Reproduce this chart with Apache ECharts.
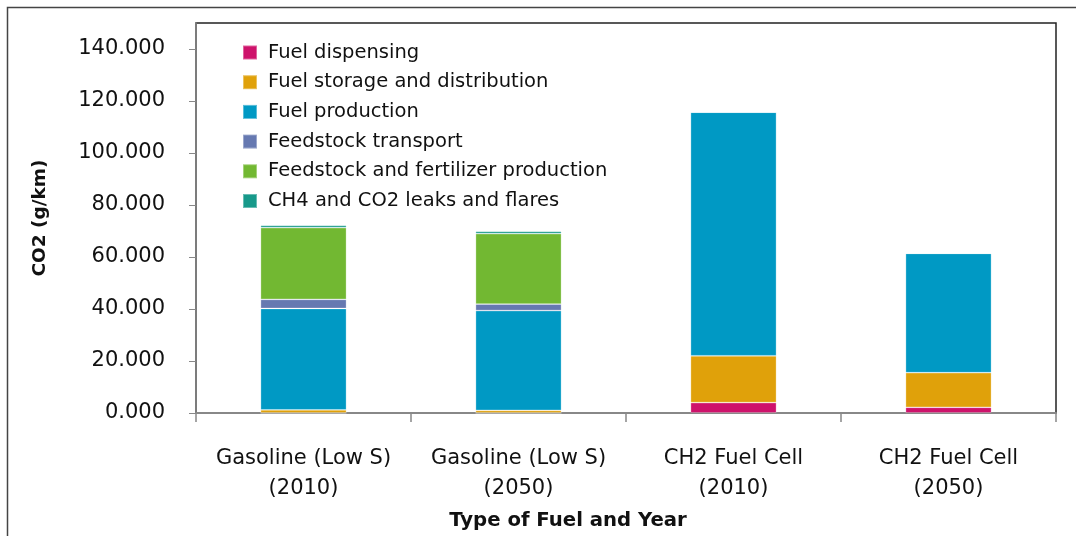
<!DOCTYPE html>
<html>
<head>
<meta charset="utf-8">
<script src="https://cdn.jsdelivr.net/npm/echarts@6/dist/echarts.min.js"></script>
<style>
  html, body { margin: 0; padding: 0; background: #fff; }
  #chart { width: 1076px; height: 536px; }
</style>
</head>
<body>
<div id="chart"></div>
<script>
// categories (x axis)
const categories = [
  'Gasoline (Low S)\n(2010)',
  'Gasoline (Low S)\n(2050)',
  'CH2 Fuel Cell\n(2010)',
  'CH2 Fuel Cell\n(2050)'
];

// stacked segments, bottom to top (g/km)
const fuelDispensing = [0, 0, 4.0, 2.2];
const fuelStorage = [1.2, 1.0, 18.0, 13.3];
const fuelProduction = [39.0, 38.4, 93.7, 45.9];
const feedstockTransport = [3.5, 2.5, 0, 0];
const feedstockFertilizer = [27.6, 27.1, 0, 0];
const leaksFlares = [0.9, 0.9, 0, 0];

const yTicks = [0, 20, 40, 60, 80, 100, 120, 140];

const FONT = '"DejaVu Sans", "Noto Sans", sans-serif';

const chart = echarts.init(document.getElementById('chart'));

function seg(name, data, color) {
  return {
    name: name,
    type: 'bar',
    stack: 'co2',
    data: data,
    barWidth: '40%',
    itemStyle: { color: color, borderColor: 'rgba(255,255,255,0.35)', borderWidth: 0.8 }
  };
}

const option = {
  animation: false,
  textStyle: { fontFamily: FONT },
  graphic: [
    {
      // outer frame of the chart
      type: 'rect',
      silent: true,
      shape: { x: 7.5, y: 7.5, width: 1200, height: 700 },
      style: { fill: 'none', stroke: '#444', lineWidth: 1.5 }
    }
  ],
  grid: {
    left: 196,
    right: 20,
    top: 23,
    bottom: 123,
    outerBoundsMode: 'none',
    show: true,
    borderColor: '#222',
    borderWidth: 1.5
  },
  legend: {
    orient: 'vertical',
    left: 237,
    top: 37.5,
    icon: 'rect',
    itemWidth: 14,
    itemHeight: 14,
    itemGap: 9.7,
    textStyle: {
      fontFamily: FONT, fontSize: 19.5, color: '#111',
      lineHeight: 16, padding: [0, 0, 0, 6]
    }
  },
  xAxis: {
    type: 'category',
    data: categories,
    name: 'Type of Fuel and Year',
    nameLocation: 'middle',
    nameGap: 98,
    nameTextStyle: {
      fontFamily: FONT, fontSize: 19.7, fontWeight: 'bold', color: '#111',
      padding: [0, 116, 0, 0]
    },
    axisLine: { lineStyle: { color: '#888', width: 2 } },
    axisTick: { show: true, interval: 0, length: 9, lineStyle: { color: '#888', width: 1.5 } },
    axisLabel: {
      interval: 0,
      margin: 31,
      fontFamily: FONT, fontSize: 21, color: '#111', lineHeight: 30
    }
  },
  yAxis: {
    type: 'value',
    min: 0,
    max: 150,
    interval: 20,
    name: 'CO2 (g/km)',
    nameLocation: 'middle',
    nameGap: 146,
    nameTextStyle: { fontFamily: FONT, fontSize: 18.5, fontWeight: 'bold', color: '#111' },
    axisLine: { show: true, lineStyle: { color: '#888', width: 1.5 } },
    axisTick: { show: true, length: 7, lineStyle: { color: '#888' } },
    splitLine: { show: false },
    axisLabel: {
      margin: 31,
      showMaxLabel: false,
      fontFamily: FONT, fontSize: 21, color: '#111',
      formatter: function (v) { return yTicks.indexOf(v) >= 0 ? v.toFixed(3) : ''; }
    }
  },
  series: [
    seg('Fuel dispensing', fuelDispensing, '#CE126B'),
    seg('Fuel storage and distribution', fuelStorage, '#E0A10A'),
    seg('Fuel production', fuelProduction, '#0099C4'),
    seg('Feedstock transport', feedstockTransport, '#6679B1'),
    seg('Feedstock and fertilizer production', feedstockFertilizer, '#72B832'),
    seg('CH4 and CO2 leaks and flares', leaksFlares, '#17998A')
  ]
};

chart.setOption(option);
</script>
</body>
</html>
